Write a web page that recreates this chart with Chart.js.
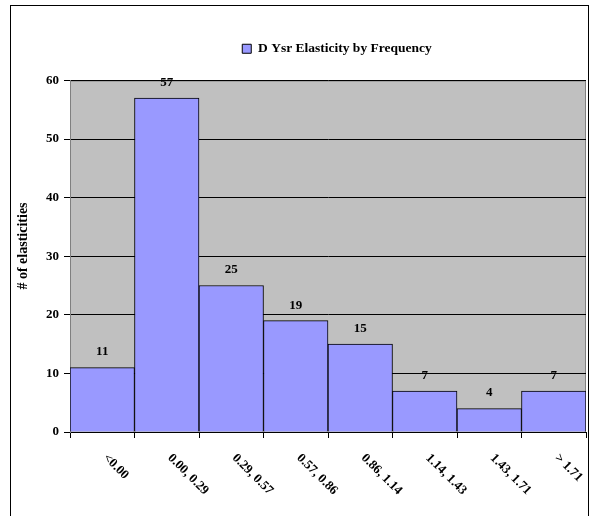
<!DOCTYPE html>
<html>
<head>
<meta charset="utf-8">
<script src="https://cdn.jsdelivr.net/npm/chart.js@4.4.0/dist/chart.umd.min.js"></script>
<style>
  body { margin: 0; background: #fff; }
  #wrap { position: relative; width: 594px; height: 516px; }
</style>
</head>
<body>
<div id="wrap"><canvas id="histo" width="594" height="516"></canvas></div>
<script>
// Datos del histograma
var categorias = ['<0.00', '0.00, 0.29', '0.29, 0.57', '0.57, 0.86', '0.86, 1.14', '1.14, 1.43', '1.43, 1.71', '> 1.71'];
var frecuencias = [11, 57, 25, 19, 15, 7, 4, 7];
var nombreSerie = 'D Ysr Elasticity by Frequency';
var tituloEjeY = '# of elasticities';

var fuente = '"Liberation Serif", "Times New Roman", serif';

// Espacio extra debajo de la leyenda y leve corrimiento a la derecha
var leyendaPlugin = {
    id: 'leyendaAlta',
    beforeLayout: function (chart) {
        var lg = chart.legend;
        if (lg && !lg._parcheado) {
            var fitOrig = lg.fit;
            lg.fit = function () {
                fitOrig.apply(this, arguments);
                this.height += 15;
            };
            lg._parcheado = true;
        }
    },
    afterLayout: function (chart) {
        var lg = chart.legend;
        if (lg) {
            lg.left += 9;
            lg.right += 9;
        }
    }
};

// Fondo gris del area de trazado y marco exterior
var fondoPlugin = {
    id: 'fondo',
    beforeDraw: function (chart) {
        var c = chart.ctx, a = chart.chartArea;
        c.save();
        c.fillStyle = '#fff';
        c.fillRect(0, 0, chart.width, chart.height);
        c.strokeStyle = '#000';
        c.lineWidth = 1;
        c.strokeRect(10.5, 5.5, 578, 520);
        c.fillStyle = '#C0C0C0';
        c.fillRect(a.left, a.top, a.right - a.left, a.bottom - a.top);
        c.strokeStyle = '#808080';
        c.strokeRect(a.left + 0.5, a.top + 0.5, a.right - a.left - 1, a.bottom - a.top);
        c.restore();
    }
};

// Etiquetas de valores, titulo del eje Y y etiquetas del eje X giradas
var etiquetasPlugin = {
    id: 'etiquetas',
    afterDatasetsDraw: function (chart) {
        var c = chart.ctx;
        var meta = chart.getDatasetMeta(0);
        c.save();
        c.fillStyle = '#000';
        c.font = 'bold 13px ' + fuente;
        c.textAlign = 'center';
        c.textBaseline = 'bottom';
        meta.data.forEach(function (bar, i) {
            c.fillText(frecuencias[i], bar.x, bar.y - 9);
        });

        c.save();
        c.font = 'bold 14px ' + fuente;
        c.textBaseline = 'middle';
        c.translate(23, 246);
        c.rotate(-Math.PI / 2);
        c.fillText(tituloEjeY, 0, 0);
        c.restore();

        var xs = chart.scales.x;
        c.font = 'bold 13px ' + fuente;
        c.textAlign = 'left';
        c.textBaseline = 'middle';
        categorias.forEach(function (lab, i) {
            var px = xs.getPixelForValue(i);
            c.save();
            c.translate(px + 3, xs.top + 24);
            c.rotate(Math.PI / 4);
            c.fillText(lab, 0, 0);
            c.restore();
        });
        c.restore();
    }
};

var ctx = document.getElementById('histo').getContext('2d');
var grafico = new Chart(ctx, {
    type: 'bar',
    data: {
        labels: categorias,
        datasets: [{
            label: nombreSerie,
            data: frecuencias,
            backgroundColor: '#9999FF',
            borderColor: '#000',
            borderWidth: 1,
            barPercentage: 1,
            categoryPercentage: 1
        }]
    },
    options: {
        responsive: false,
        animation: false,
        layout: { padding: { top: 20, right: 8, left: 12, bottom: 0 } },
        plugins: {
            legend: {
                display: true,
                position: 'top',
                fullSize: false,
                labels: {
                    color: '#000',
                    font: { family: fuente, size: 13.5, weight: 'bold' },
                    boxWidth: 9,
                    boxHeight: 9,
                    padding: 22
                }
            },
            tooltip: { enabled: false }
        },
        scales: {
            x: {
                offset: true,
                grid: { display: true, drawOnChartArea: false, drawTicks: true, tickLength: 6, color: '#000', offset: true },
                border: { color: '#000', width: 1 },
                ticks: { display: false },
                afterFit: function (s) { s.height = 84; }
            },
            y: {
                min: 0,
                max: 60,
                ticks: {
                    stepSize: 10,
                    color: '#000',
                    font: { family: fuente, size: 13, weight: 'bold' },
                    padding: 5
                },
                grid: { color: '#000', tickLength: 6 },
                border: { color: '#808080' },
                title: { display: false },
                afterFit: function (s) { s.width = 58; }
            }
        }
    },
    plugins: [leyendaPlugin, fondoPlugin, etiquetasPlugin]
});
</script>
</body>
</html>
